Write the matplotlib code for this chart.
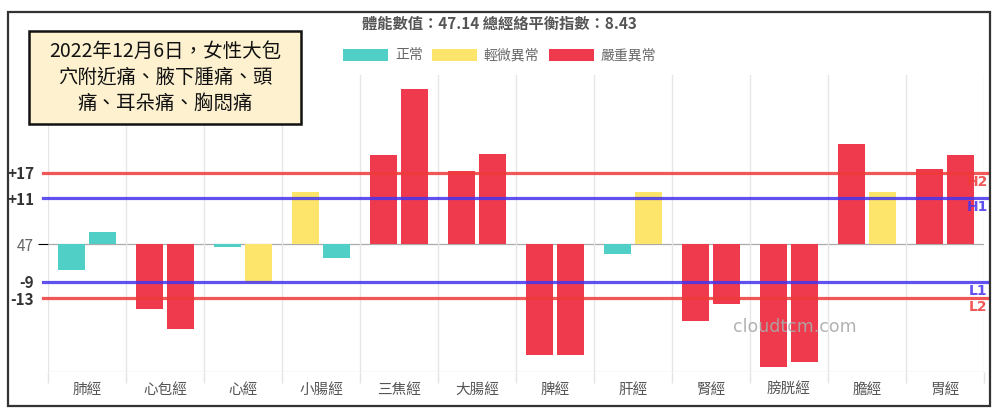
import numpy as np
import matplotlib
matplotlib.use("Agg")
import matplotlib.pyplot as plt
from matplotlib.patches import Rectangle
import matplotlib.transforms as mtransforms

plt.rcParams['font.family'] = ['Noto Sans CJK TC', 'DejaVu Sans']

# ---------------- data ----------------
meridians = ["肺經", "心包經", "心經", "小腸經", "三焦經", "大腸經",
             "脾經", "肝經", "腎經", "膀胱經", "膽經", "胃經"]
left_vals = [-6.2, -15.6, -0.6, 12.5, 21.4, 17.5, -26.6, -2.4, -18.4, -29.3, 23.9, 17.9]
right_vals = [2.8, -20.4, -9.4, -3.4, 37.0, 21.5, -26.6, 12.4, -14.4, -28.2, 12.5, 21.4]

base_value = 47
ref_levels = [17, 11, -9, -13]
ref_names = ["H2", "H1", "L1", "L2"]
ytick_vals = [17, 11, 0, -9, -13]
ytick_labels = ["+17", "+11", "47", "-9", "-13"]

legend_names = ["正常", "輕微異常", "嚴重異常"]
title_txt = "體能數值：47.14 總經絡平衡指數：8.43"
note_txt = "2022年12月6日，女性大包\n穴附近痛、腋下腫痛、頭\n痛、耳朵痛、胸悶痛"

C_NORMAL = "#4fcfc5"
C_MILD = "#fce56a"
C_SEVERE = "#ee3a4c"
C_RED_LINE = "#f03a3a"
C_BLUE_LINE = "#4433ee"


def bar_color(v):
    if v > 17 or v < -13:
        return C_SEVERE
    if v > 11 or v < -9:
        return C_MILD
    return C_NORMAL


# ---------------- figure ----------------
fig = plt.figure(figsize=(10, 4.17), dpi=100)
ax = fig.add_axes([0.048, 0.108, 0.936, 0.712])

x = np.arange(len(meridians))
w = 0.35
ax.bar(x - 0.2, left_vals, width=w, color=[bar_color(v) for v in left_vals], zorder=2)
ax.bar(x + 0.2, right_vals, width=w, color=[bar_color(v) for v in right_vals], zorder=2)

ax.set_xlim(-0.5, len(meridians) - 0.5)
ax.set_ylim(-30.6, 40.4)

# zero line and bottom line
ax.axhline(0, color="#aaaaaa", lw=0.9, zorder=1)
ax.axhline(-30.6, color="#e3e3e3", lw=1.0, zorder=1)

# vertical grid lines at category borders (with tick extension)
ax.set_xticks(np.arange(-0.5, len(meridians), 1.0))
ax.set_xticklabels([])
ax.tick_params(axis="x", which="major", length=8, color="#e3e3e3", width=1.0)
ax.set_xticks(x, minor=True)
ax.set_xticklabels(meridians, minor=True)
ax.tick_params(axis="x", which="minor", length=0, pad=8, labelsize=10.5, labelcolor="#555555")
ax.grid(axis="x", which="major", color="#e6e6e6", lw=1.0, zorder=0)

ax.set_yticks(ytick_vals)
ax.set_yticklabels(ytick_labels)
ax.tick_params(axis="y", length=0, pad=10, labelsize=11)
for tick, lab in zip(ax.yaxis.get_major_ticks(), ytick_labels):
    if lab == "47":
        tick.tick1line.set_markersize(7)
        tick.tick1line.set_color("#aaaaaa")
        tick.label1.set_color("#666666")
        tick.label1.set_fontweight("normal")
    else:
        tick.label1.set_color("#333333")
        tick.label1.set_fontweight("bold")

for s in ax.spines.values():
    s.set_visible(False)

# reference lines H2/H1/L1/L2
trans = mtransforms.blended_transform_factory(ax.transAxes, ax.transData)
for lvl, name in zip(ref_levels, ref_names):
    col = C_RED_LINE if name.endswith("2") else C_BLUE_LINE
    ax.plot([-0.005, 1.004], [lvl, lvl], transform=trans, color=col, lw=2.3,
            alpha=0.85, clip_on=False, zorder=3)
    ax.text(1.004, lvl - 0.5, name, transform=trans, ha="right", va="top",
            color=col, fontsize=10, fontweight="bold", alpha=0.85, clip_on=False,
            family=["DejaVu Sans"])

# watermark
ax.text(9.08, -19.9, "cloudtcm.com", color="#aaaaaa", fontsize=12.5, alpha=0.9,
        ha="center", va="center", family=["DejaVu Sans"], zorder=4)

# title
fig.text(0.499, 0.942, title_txt, ha="center", va="center", fontsize=11,
         fontweight="bold", color="#555555")

# legend drawn by hand
leg_boxes = [(0.343, C_NORMAL), (0.432, C_MILD), (0.549, C_SEVERE)]
for (lx, col), name in zip(leg_boxes, legend_names):
    fig.patches.append(Rectangle((lx, 0.853), 0.045, 0.03, transform=fig.transFigure,
                                 facecolor=col, edgecolor="none"))
    fig.text(lx + 0.052, 0.868, name, ha="left", va="center", fontsize=10, color="#666666")

# note box
fig.patches.append(Rectangle((0.029, 0.703), 0.272, 0.223, transform=fig.transFigure,
                             facecolor="#fdf1cf", edgecolor="#111111", lw=1.8, zorder=5))
fig.text(0.165, 0.814, note_txt, ha="center", va="center", fontsize=14,
         color="#111111", linespacing=1.3, zorder=6)

# outer frame
fig.patches.append(Rectangle((0.008, 0.026), 0.982, 0.945, transform=fig.transFigure,
                             facecolor="none", edgecolor="#333333", lw=1.6, zorder=5))

fig.savefig("out.png", dpi=100)
